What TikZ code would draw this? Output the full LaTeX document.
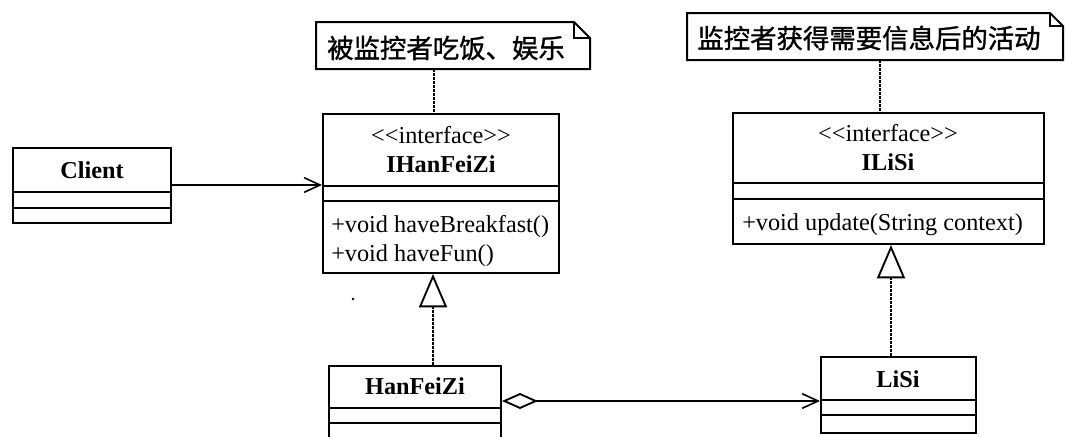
\documentclass[tikz,border=0pt]{standalone}
\usepackage{fontspec}
\setmainfont{Liberation Serif}
\newfontfamily\cjk[FakeBold=1.2]{Noto Sans CJK SC}
\usetikzlibrary{arrows.meta,fit,calc}
\tikzset{
  px/.style={x=0.75pt,y=-0.75pt},
  cls/.style={draw, inner sep=0pt, line width=1.5pt},
  frame/.style={inner sep=0pt},
  outline/.style={draw, line width=1.5pt, line join=miter},
  sep/.style={line width=1.5pt},
  lbl/.style={inner sep=0pt, text height=0.68em, text depth=0.2em, yshift=-4pt},
  cname/.style={lbl, font=\fontsize{18.2pt}{21pt}\selectfont\bfseries},
  ctext/.style={lbl, font=\fontsize{18.2pt}{21pt}\selectfont},
  notetext/.style={inner sep=0pt, font=\fontsize{19.8pt}{23pt}\cjk},
  dep/.style={line width=0.8pt, dash pattern=on 2pt off 1pt},
  assoc/.style={line width=1.2pt, -{Straight Barb[length=12pt,width=11pt]}},
  realize/.style={line width=0.8pt, dash pattern=on 2pt off 1pt, -{Triangle[open,length=25pt,width=21pt,line width=1.4pt]}},
  agg/.style={line width=1.2pt, {Diamond[open,length=27pt,width=12pt,line width=1.4pt]}-{Straight Barb[length=12pt,width=11pt]}},
}
\begin{document}
\begin{tikzpicture}[px]
\useasboundingbox (0,0) rectangle (1066,436);
\clip (0,0) rectangle (1066,436);

% ---------- Note 1 ----------
\node[frame, fit={(316,22) (590,69)}] (note1) {};
\draw[outline] (316,22) -- (574,22) -- (590,38) -- (590,69) -- (316,69) -- cycle;
\draw[sep] (574,22) -- (574,38) -- (590,38);
\node[notetext] (note1t) at (446,48) {被监控者吃饭、娱乐};

% ---------- Note 2 ----------
\node[frame, fit={(687,13) (1063,60)}] (note2) {};
\draw[outline] (687,13) -- (1050,13) -- (1063,26) -- (1063,60) -- (687,60) -- cycle;
\draw[sep] (1050,13) -- (1050,26) -- (1063,26);
\node[notetext] (note2t) at (869,38) {监控者获得需要信息后的活动};

% ---------- Client ----------
\node[cls, fit={(13,148) (171,223)}] (client) {};
\draw[sep] (13,192) -- (171,192);
\draw[sep] (13,208) -- (171,208);
\node[cname] (clientn) at (92,170) {Client};

% ---------- IHanFeiZi ----------
\node[cls, fit={(323,114) (559,273)}] (ihf) {};
\draw[sep] (323,186) -- (559,186);
\draw[sep] (323,201) -- (559,201);
\node[ctext] (ihfs) at (441,135) {<{}<interface>{}>};
\node[cname] (ihfn) at (441,164) {IHanFeiZi};
\node[ctext, anchor=west] (ihfm1) at (331,224) {+void haveBreakfast()};
\node[ctext, anchor=west] (ihfm2) at (331,253) {+void haveFun()};

% ---------- ILiSi ----------
\node[cls, fit={(733,113) (1044,244)}] (ils) {};
\draw[sep] (733,183) -- (1044,183);
\draw[sep] (733,199) -- (1044,199);
\node[ctext] (ilss) at (888,133) {<{}<interface>{}>};
\node[cname] (ilsn) at (888,162) {ILiSi};
\node[ctext, anchor=west] (ilsm1) at (742,222) {+void update(String context)};

% ---------- HanFeiZi ----------
\node[cls, fit={(329,366) (501,450)}] (hfz) {};
\draw[sep] (329,408) -- (501,408);
\draw[sep] (329,423) -- (501,423);
\node[cname] (hfzn) at (415,386) {HanFeiZi};

% ---------- LiSi ----------
\node[cls, fit={(821,357) (976,433)}] (lisi) {};
\draw[sep] (821,400) -- (976,400);
\draw[sep] (821,415) -- (976,415);
\node[cname] (lisin) at (898,379) {LiSi};

% ---------- guide coordinates ----------
\coordinate (xa) at (434,0);
\coordinate (xb) at (880,0);
\coordinate (xc) at (433,0);
\coordinate (xd) at (891,0);
\coordinate (ya) at (0,185);
\coordinate (yb) at (0,401);

% ---------- connectors ----------
\draw[dep] (note1.south -| xa) -- (ihf.north -| xa);
\draw[dep] (note2.south -| xb) -- (ils.north -| xb);
\draw[assoc] (client.east |- ya) -- (ihf.west |- ya);
\draw[realize] (hfz.north -| xc) -- (ihf.south -| xc);
\draw[realize] (lisi.north -| xd) -- (ils.south -| xd);
\draw[agg] (hfz.east |- yb) -- (lisi.west |- yb);

% stray speck
\fill (353,299) circle (1.4);
\end{tikzpicture}
\end{document}
